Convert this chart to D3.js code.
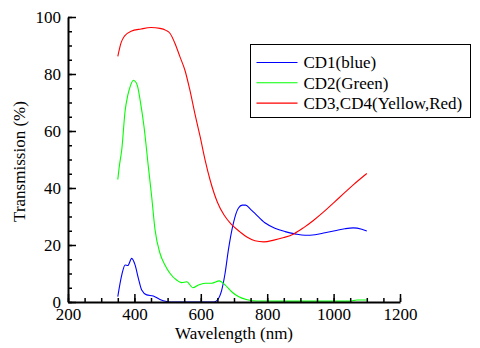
<!DOCTYPE html>
<html>
<head>
<meta charset="utf-8">
<script src="https://cdn.jsdelivr.net/npm/d3@7"></script>
<style>
  body { margin: 0; background: #fff; }
</style>
</head>
<body>
<div id="chart"></div>
<script>
// wavelengths (nm) and transmission (%)
var blueWavelength = [350, 362, 372, 380, 392, 402, 412, 422, 437, 457, 477, 497, 510, 640, 650, 663, 673, 683, 698, 713, 725, 735, 750, 763, 793, 823, 854, 884, 914, 944, 974, 1004, 1034, 1059, 1085, 1100];
var blueValues     = [1.9, 9.5, 13, 12.8, 15.3, 13, 8.3, 4.2, 2.5, 2.1, 0.9, 0.2, 0, 0, 0.7, 4.2, 10, 18.2, 27.6, 32.9, 34, 34, 32.5, 31.1, 27.8, 25.9, 24.7, 23.9, 23.4, 23.6, 24.3, 25, 25.7, 26, 25.5, 24.9];

var greenWavelength = [350, 355, 362, 372, 380, 387, 397, 405, 410, 417, 429, 442, 452, 462, 477, 492, 507, 527, 542, 558, 576, 593, 613, 633, 656, 673, 693, 713, 740, 770, 900, 1050, 1070, 1100];
var greenValues     = [43, 48, 53.5, 67, 72.5, 75.5, 77.8, 77, 75.5, 71, 61.5, 47.5, 37, 25.5, 17.1, 13, 10.1, 7.7, 6.8, 7.1, 5.0, 6, 6.6, 6.6, 7.4, 6, 3.6, 1.9, 0.8, 0.35, 0.3, 0.3, 0.7, 0.7];

var redWavelength = [350, 360, 370, 390, 420, 450, 477, 495, 507, 522, 537, 552, 567, 582, 598, 613, 628, 650, 670, 690, 718, 740, 763, 790, 820, 850, 880, 910, 940, 970, 1000, 1030, 1060, 1100];
var redValues     = [86.2, 91, 93.3, 95, 95.8, 96.3, 96, 95.3, 94.3, 90.8, 86.1, 81.4, 74.4, 66.2, 58, 49.8, 42.8, 35, 30.5, 27.5, 24.6, 22.7, 21.5, 21.1, 21.7, 22.6, 23.9, 26.1, 28.7, 31.6, 34.8, 38, 41.2, 45.1];

var seriesNames  = ["CD1(blue)", "CD2(Green)", "CD3,CD4(Yellow,Red)"];
var seriesColors = ["#0000ff", "#00ff00", "#ff0000"];

var xMajorTicks = [200, 400, 600, 800, 1000, 1200];
var yMajorTicks = [0, 20, 40, 60, 80, 100];

var width = 480, height = 348;
var margin = {top: 17, right: 80, bottom: 46, left: 68};
var serif = "'Liberation Serif'";

var x = d3.scaleLinear()
    .domain([200, 1200])
    .range([margin.left, width - margin.right]);

var y = d3.scaleLinear()
    .domain([0, 100])
    .range([height - margin.bottom, margin.top]);

var svg = d3.select("#chart").append("svg")
    .attr("width", width)
    .attr("height", height);

var series = [
  {name: seriesNames[0], color: seriesColors[0], data: d3.zip(blueWavelength, blueValues)},
  {name: seriesNames[1], color: seriesColors[1], data: d3.zip(greenWavelength, greenValues)},
  {name: seriesNames[2], color: seriesColors[2], data: d3.zip(redWavelength, redValues)}
];

var line = d3.line()
    .x(function(d) { return x(d[0]); })
    .y(function(d) { return y(d[1]); })
    .curve(d3.curveMonotoneX);

svg.selectAll("path.series")
    .data(series)
  .enter().append("path")
    .attr("class", "series")
    .attr("d", function(d) { return line(d.data); })
    .attr("fill", "none")
    .attr("stroke", function(d) { return d.color; })
    .attr("stroke-width", 1.1);

// minor ticks
svg.append("g")
    .attr("transform", "translate(0," + y(0) + ")")
    .call(d3.axisBottom(x).tickValues(d3.range(200, 1201, 50)).tickSize(-4).tickFormat(""))
    .call(function(g) { g.select(".domain").remove(); });

svg.append("g")
    .attr("transform", "translate(" + x(200) + ",0)")
    .call(d3.axisLeft(y).tickValues(d3.range(0, 101, 5)).tickSize(-4).tickFormat(""))
    .call(function(g) { g.select(".domain").remove(); });

// major ticks + labels
var xAxis = svg.append("g")
    .attr("transform", "translate(0," + y(0) + ")")
    .call(d3.axisBottom(x).tickValues(xMajorTicks).tickFormat(d3.format("d"))
      .tickSizeInner(-8).tickSizeOuter(0).tickPadding(5));

var yAxis = svg.append("g")
    .attr("transform", "translate(" + x(200) + ",0)")
    .call(d3.axisLeft(y).tickValues(yMajorTicks).tickFormat(d3.format("d"))
      .tickSizeInner(-8).tickSizeOuter(0).tickPadding(7));

xAxis.attr("font-family", null);
yAxis.attr("font-family", null);
svg.selectAll(".tick line").attr("stroke", "#000").attr("stroke-width", 1.5);
svg.selectAll(".domain").attr("stroke", "#000").attr("stroke-width", 2);
svg.selectAll(".tick text")
    .style("font-family", serif)
    .style("font-size", "17px")
    .attr("fill", "#000");
xAxis.selectAll(".tick text").attr("dy", "0.75em");

svg.append("text")
    .attr("x", (x(200) + x(1200)) / 2)
    .attr("y", 339)
    .attr("text-anchor", "middle")
    .style("font-family", serif)
    .style("font-size", "17px")
    .text("Wavelength (nm)");

svg.append("text")
    .attr("transform", "translate(25," + (y(50) + 2) + ") rotate(-90)")
    .attr("text-anchor", "middle")
    .style("font-family", serif)
    .style("font-size", "17px")
    .text("Transmission (%)");

// legend
var legend = svg.append("g").attr("transform", "translate(250.5,44.5)");
legend.append("rect")
    .attr("width", 220)
    .attr("height", 73)
    .attr("fill", "#fff")
    .attr("stroke", "#000")
    .attr("stroke-width", 1);

var item = legend.selectAll("g.item")
    .data(series)
  .enter().append("g")
    .attr("class", "item")
    .attr("transform", function(d, i) { return "translate(0," + (18 + i * 20.3) + ")"; });

item.append("line")
    .attr("x1", 6).attr("x2", 47)
    .attr("stroke", function(d) { return d.color; })
    .attr("stroke-width", 1.1);

item.append("text")
    .attr("x", 53)
    .attr("dy", "0.35em")
    .style("font-family", serif)
    .style("font-size", "17px")
    .text(function(d) { return d.name; });
</script>
</body>
</html>
